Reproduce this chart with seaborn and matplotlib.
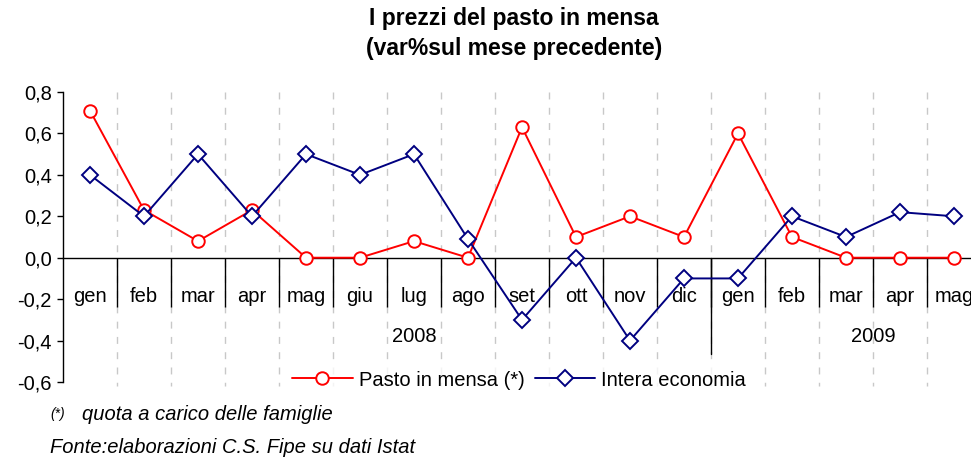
import pandas as pd
import matplotlib.pyplot as plt
import seaborn as sns

# =============
# DATI
# =============
mesi = ['gen', 'feb', 'mar', 'apr', 'mag', 'giu', 'lug', 'ago', 'set', 'ott',
        'nov', 'dic', 'gen', 'feb', 'mar', 'apr', 'mag']
anni = ['2008', '2009']
pasto_mensa = [0.71, 0.23, 0.08, 0.23, 0.0, 0.0, 0.08, 0.0, 0.63, 0.10,
               0.20, 0.10, 0.60, 0.10, 0.0, 0.0, 0.0]
intera_economia = [0.40, 0.20, 0.50, 0.20, 0.50, 0.40, 0.50, 0.09, -0.30, 0.0,
                   -0.40, -0.10, -0.10, 0.20, 0.10, 0.22, 0.20]
y_ticks = [0.8, 0.6, 0.4, 0.2, 0.0, -0.2, -0.4, -0.6]

df = pd.DataFrame({'pos': range(len(mesi)),
                   'pasto': pasto_mensa,
                   'intera': intera_economia})

# =============
# GRAFICO
# =============
sns.set_style('white')
plt.rcParams['font.family'] = ['Liberation Sans', 'DejaVu Sans']
plt.rcParams['text.color'] = 'black'
plt.rcParams['xtick.color'] = 'black'
plt.rcParams['ytick.color'] = 'black'

fig = plt.figure(figsize=(9.71, 4.61), dpi=100)
ax = fig.add_axes([63 / 971, 1 - 382 / 461, 918 / 971, 290 / 461])

# griglia verticale tratteggiata ai confini delle categorie
for k in range(len(mesi) - 1):
    ax.plot([k + 0.5, k + 0.5], [0.8, -0.62], color='#c8c8c8', lw=1,
            dashes=(5, 6), zorder=0, clip_on=False)

sns.lineplot(data=df, x='pos', y='pasto', ax=ax, color='#ff0000', lw=1.4,
             marker='o', markersize=9, markerfacecolor='white',
             markeredgecolor='#ff0000', markeredgewidth=1.4,
             label='Pasto in mensa (*)', zorder=3)
sns.lineplot(data=df, x='pos', y='intera', ax=ax, color='#000080', lw=1.4,
             marker='D', markersize=8, markerfacecolor='white',
             markeredgecolor='#000080', markeredgewidth=1.4,
             label='Intera economia', zorder=3)

ax.set_xlim(-0.5, len(mesi) - 0.5)
ax.set_ylim(-0.6, 0.8)
ax.set_xlabel('')
ax.set_ylabel('')

# asse x sullo zero, separatori come tick minori
for s in ['top', 'right']:
    ax.spines[s].set_visible(False)
ax.spines['bottom'].set_position(('data', 0))
ax.spines['bottom'].set_color('black')
ax.spines['bottom'].set_linewidth(1)
ax.spines['left'].set_color('black')
ax.spines['left'].set_linewidth(1)

ax.set_xticks(range(len(mesi)))
ax.set_xticklabels(mesi, fontsize=14.5)
ax.set_xticks([k + 0.5 for k in range(len(mesi) - 1)], minor=True)
ax.tick_params(axis='x', which='major', length=0, pad=21)
ax.tick_params(axis='x', which='minor', bottom=True, length=35, width=1,
               color='black', direction='out')

ax.set_yticks(y_ticks)
ax.set_yticklabels([f'{v:.1f}'.replace('.', ',') for v in y_ticks], fontsize=14.5)
ax.tick_params(axis='y', length=4, width=1, color='black', direction='out',
               left=True, pad=4)

# separatore anni e etichette anni
ax.plot([11.5, 11.5], [0, -0.465], color='black', lw=1, clip_on=False)
ax.text(6, -0.38, anni[0], ha='center', va='center', fontsize=14.5)
ax.text(14.5, -0.38, anni[1], ha='center', va='center', fontsize=14.5)

leg = ax.legend(loc='center', bbox_to_anchor=(519 / 971, 1 - 380 / 461),
                bbox_transform=fig.transFigure, ncol=2, fontsize=14.5,
                frameon=True, handlelength=3.0, columnspacing=0.5,
                handletextpad=0.3, borderpad=0.2)
leg.get_frame().set_facecolor('white')
leg.get_frame().set_edgecolor('white')

# titolo
fig.text(514 / 971, 1 - 18 / 461, 'I prezzi del pasto in mensa',
         ha='center', va='center', fontsize=16.5, fontweight='bold')
fig.text(514 / 971, 1 - 48 / 461, '(var%sul mese precedente)',
         ha='center', va='center', fontsize=16.5, fontweight='bold')

# note
fig.text(50 / 971, 1 - 414 / 461, '(*)', ha='left', va='center',
         fontsize=10, style='italic')
fig.text(82 / 971, 1 - 414 / 461, 'quota a carico delle famiglie',
         ha='left', va='center', fontsize=14.5, style='italic')
fig.text(50 / 971, 1 - 447 / 461, 'Fonte:elaborazioni C.S. Fipe su dati Istat',
         ha='left', va='center', fontsize=14.5, style='italic')

fig.savefig('out.png', dpi=100)
